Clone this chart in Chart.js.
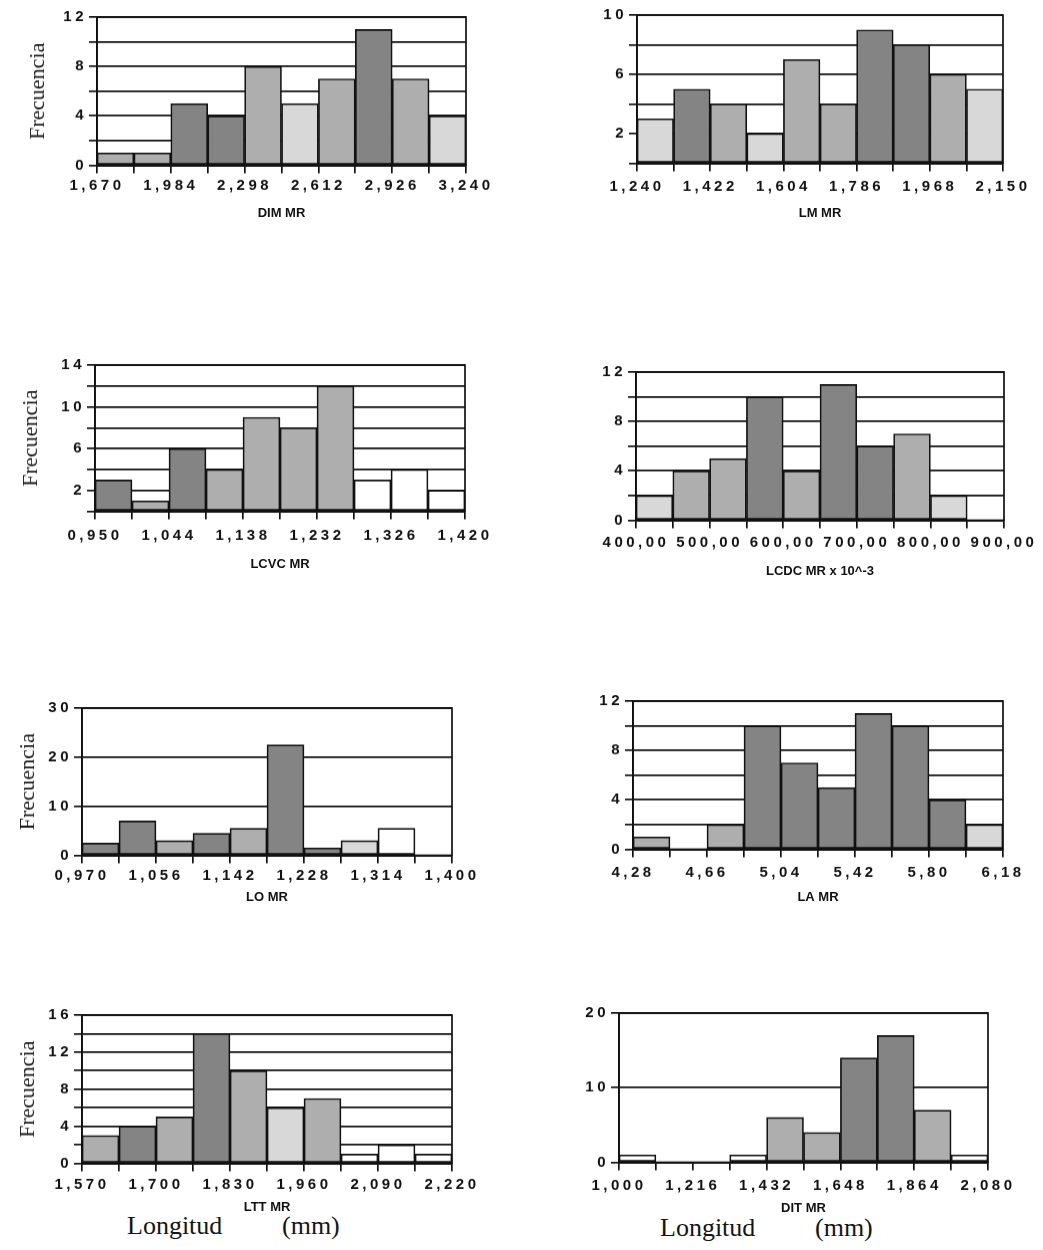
<!DOCTYPE html>
<html>
<head>
<meta charset="utf-8">
<script src="https://cdn.jsdelivr.net/npm/chart.js@4.4.1/dist/chart.umd.min.js"></script>
<style>
html,body{margin:0;padding:0;background:#fff;}
#page{position:relative;width:1043px;height:1250px;overflow:hidden;background:#fff;}
#page canvas{position:absolute;}
.foot{position:absolute;font-family:"Liberation Serif","Times New Roman",serif;font-size:26px;line-height:26px;color:#151515;white-space:pre;}
</style>
</head>
<body>
<div id="page">
  <div class="foot" style="left:127px;top:1213px;">Longitud</div>
  <div class="foot" style="left:282px;top:1213px;">(mm)</div>
  <div class="foot" style="left:660px;top:1215px;">Longitud</div>
  <div class="foot" style="left:815px;top:1215px;">(mm)</div>
</div>
<script>
// ---------- DATA ----------
// DIM MR
const dimEdges  = [1.670,1.827,1.984,2.141,2.298,2.455,2.612,2.769,2.926,3.083,3.240];
const dimLabels = ['1,670','1,984','2,298','2,612','2,926','3,240'];
const dimFreq   = [1,1,5,4,8,5,7,11,7,4];
const dimYTicks = [0,2,4,6,8,10,12];
const dimYLabels = [0,4,8,12];
// LM MR
const lmEdges  = [1.240,1.331,1.422,1.513,1.604,1.695,1.786,1.877,1.968,2.059,2.150];
const lmLabels = ['1,240','1,422','1,604','1,786','1,968','2,150'];
const lmFreq   = [3,5,4,2,7,4,9,8,6,5];
const lmYTicks = [0,2,4,6,8,10];
const lmYLabels = [2,6,10];
// LCVC MR
const lcvcEdges  = [0.950,0.997,1.044,1.091,1.138,1.185,1.232,1.279,1.326,1.373,1.420];
const lcvcLabels = ['0,950','1,044','1,138','1,232','1,326','1,420'];
const lcvcFreq   = [3,1,6,4,9,8,12,3,4,2];
const lcvcYTicks = [0,2,4,6,8,10,12,14];
const lcvcYLabels = [2,6,10,14];
// LCDC MR x 10^-3
const lcdcEdges  = [400,450,500,550,600,650,700,750,800,850,900];
const lcdcLabels = ['400,00','500,00','600,00','700,00','800,00','900,00'];
const lcdcFreq   = [2,4,5,10,4,11,6,7,2,0];
const lcdcYTicks = [0,2,4,6,8,10,12];
const lcdcYLabels = [0,4,8,12];
// LO MR
const loEdges  = [0.970,1.013,1.056,1.099,1.142,1.185,1.228,1.271,1.314,1.357,1.400];
const loLabels = ['0,970','1,056','1,142','1,228','1,314','1,400'];
const loFreq   = [2.5,7,3,4.5,5.5,22.5,1.5,3,5.5,0];
const loYTicks = [0,10,20,30];
const loYLabels = [0,10,20,30];
// LA MR
const laEdges  = [4.28,4.47,4.66,4.85,5.04,5.23,5.42,5.61,5.80,5.99,6.18];
const laLabels = ['4,28','4,66','5,04','5,42','5,80','6,18'];
const laFreq   = [1,0,2,10,7,5,11,10,4,2];
const laYTicks = [0,2,4,6,8,10,12];
const laYLabels = [0,4,8,12];
// LTT MR
const lttEdges  = [1.570,1.635,1.700,1.765,1.830,1.895,1.960,2.025,2.090,2.155,2.220];
const lttLabels = ['1,570','1,700','1,830','1,960','2,090','2,220'];
const lttFreq   = [3,4,5,14,10,6,7,1,2,1];
const lttYTicks = [0,2,4,6,8,10,12,14,16];
const lttYLabels = [0,4,8,12,16];
// DIT MR
const ditEdges  = [1.000,1.108,1.216,1.324,1.432,1.540,1.648,1.756,1.864,1.972,2.080];
const ditLabels = ['1,000','1,216','1,432','1,648','1,864','2,080'];
const ditFreq   = [1,0,0,1,6,4,14,17,7,1];
const ditYTicks = [0,10,20];
const ditYLabels = [0,10,20];

// ---------- STYLE ----------
const SHADE = ['#ffffff','#d8d8d8','#aeaeae','#848484'];
const INK = '#111111';
const SANS = '"Liberation Sans", Arial, Helvetica, sans-serif';
const SERIF = '"Liberation Serif", "Times New Roman", serif';

const panels = [
  {title:'DIM MR', edges:dimEdges, labels:dimLabels, freq:dimFreq, yTicks:dimYTicks, yLabels:dimYLabels,
   shades:[2,2,3,3,2,1,2,3,2,1], L:97, R:466, T:17, B:165, titleY:213, axisW:70, xPad:3, frec:true},
  {title:'LM MR', edges:lmEdges, labels:lmLabels, freq:lmFreq, yTicks:lmYTicks, yLabels:lmYLabels,
   shades:[1,3,2,1,2,2,3,3,2,1], L:637, R:1003, T:15, B:163, titleY:213, axisW:45, xPad:6, frec:false},
  {title:'LCVC MR', edges:lcvcEdges, labels:lcvcLabels, freq:lcvcFreq, yTicks:lcvcYTicks, yLabels:lcvcYLabels,
   shades:[3,2,3,2,2,2,2,0,0,0], L:95, R:465, T:365, B:511, titleY:564, axisW:75, xPad:7, frec:true},
  {title:'LCDC MR x 10^-3', edges:lcdcEdges, labels:lcdcLabels, freq:lcdcFreq, yTicks:lcdcYTicks, yLabels:lcdcYLabels,
   shades:[1,2,2,3,2,3,3,2,1,0], L:636, R:1004, T:372, B:520, titleY:571, axisW:45, xPad:5, frec:false},
  {title:'LO MR', edges:loEdges, labels:loLabels, freq:loFreq, yTicks:loYTicks, yLabels:loYLabels,
   shades:[3,3,2,3,2,3,3,1,0,0], L:82, R:452, T:708, B:855, titleY:897, axisW:65, xPad:3, frec:true},
  {title:'LA MR', edges:laEdges, labels:laLabels, freq:laFreq, yTicks:laYTicks, yLabels:laYLabels,
   shades:[2,0,2,3,3,3,3,3,3,1], L:633, R:1003, T:701, B:849, titleY:897, axisW:45, xPad:6, frec:false},
  {title:'LTT MR', edges:lttEdges, labels:lttLabels, freq:lttFreq, yTicks:lttYTicks, yLabels:lttYLabels,
   shades:[2,3,2,3,2,1,2,0,0,0], L:82, R:452, T:1015, B:1163, titleY:1207, axisW:65, xPad:4, frec:true},
  {title:'DIT MR', edges:ditEdges, labels:ditLabels, freq:ditFreq, yTicks:ditYTicks, yLabels:ditYLabels,
   shades:[0,0,0,0,2,2,3,3,2,0], L:619, R:988, T:1013, B:1162, titleY:1208, axisW:45, xPad:6, frec:false}
];

const framePlugin = {
  id:'frame',
  afterDatasetsDraw(chart){
    const {ctx, chartArea:a} = chart;
    ctx.save();
    ctx.strokeStyle = INK; ctx.lineWidth = 1.7;
    ctx.strokeRect(a.left, a.top, a.right - a.left, a.bottom - a.top);
    ctx.restore();
    ctx.letterSpacing = '3.5px';
  },
  afterDraw(chart){ chart.ctx.letterSpacing = '0px'; }
};

const page = document.getElementById('page');

function makePanel(p){
  const padTop = 12, padRight = 45, titleSize = 13;
  const xAxisH = p.titleY + titleSize/2 - p.B;
  const left = p.L - p.axisW, top = p.T - padTop;
  const w = p.axisW + (p.R - p.L) + padRight;
  const h = padTop + (p.B - p.T) + xAxisH;
  const cv = document.createElement('canvas');
  cv.width = w; cv.height = h;
  cv.style.left = left + 'px'; cv.style.top = top + 'px';
  cv.style.width = w + 'px'; cv.style.height = h + 'px';
  page.appendChild(cv);

  const pts = p.freq.map((v, i) => ({x:(p.edges[i] + p.edges[i+1]) / 2, y:v}));
  const tickFont = {family:SANS, size:15, weight:'bold', lineHeight:1.2};

  new Chart(cv, {
    type:'bar',
    data:{datasets:[{
      data:pts,
      backgroundColor:p.shades.map(s => SHADE[s]),
      borderColor:INK, borderWidth:1.7, borderSkipped:false,
      barPercentage:1, categoryPercentage:1
    }]},
    options:{
      responsive:false, animation:false, devicePixelRatio:1,
      layout:{padding:{top:padTop, right:padRight, left:0, bottom:0}},
      plugins:{legend:{display:false}, tooltip:{enabled:false}},
      scales:{
        x:{
          type:'linear', min:p.edges[0], max:p.edges[p.edges.length-1], offset:false,
          afterBuildTicks:s => { s.ticks = p.edges.map(v => ({value:v})); },
          afterFit:s => { s.height = xAxisH; s.paddingLeft = 0; s.paddingRight = 0; },
          grid:{display:true, drawOnChartArea:false, drawTicks:true, tickLength:8, color:INK, lineWidth:1.7, offset:false},
          border:{display:true, color:INK, width:1.7},
          ticks:{autoSkip:false, maxRotation:0, minRotation:0, padding:p.xPad, color:INK, font:tickFont, z:1,
                 callback:(v, i) => (i % 2 === 0 ? p.labels[i/2] : '')},
          title:{display:true, text:p.title, padding:0, color:INK,
                 font:{family:SANS, size:titleSize, weight:'bold', lineHeight:1}}
        },
        y:{
          min:0, max:p.yTicks[p.yTicks.length-1],
          afterBuildTicks:s => { s.ticks = p.yTicks.map(v => ({value:v})); },
          afterFit:s => { s.width = p.axisW; s.paddingTop = 0; s.paddingBottom = 0; },
          grid:{color:INK, lineWidth:1.7, tickLength:8, drawTicks:true},
          border:{display:true, color:INK, width:1.7},
          ticks:{autoSkip:false, padding:2, color:INK, font:tickFont, z:1,
                 callback:v => (p.yLabels.includes(v) ? String(v) : '')},
          title:{display:p.frec, text:'Frecuencia', padding:0, color:'#1a1a1a',
                 font:{family:SERIF, size:22, lineHeight:1}}
        }
      }
    },
    plugins:[framePlugin]
  });
}

panels.forEach(makePanel);
</script>
</body>
</html>
